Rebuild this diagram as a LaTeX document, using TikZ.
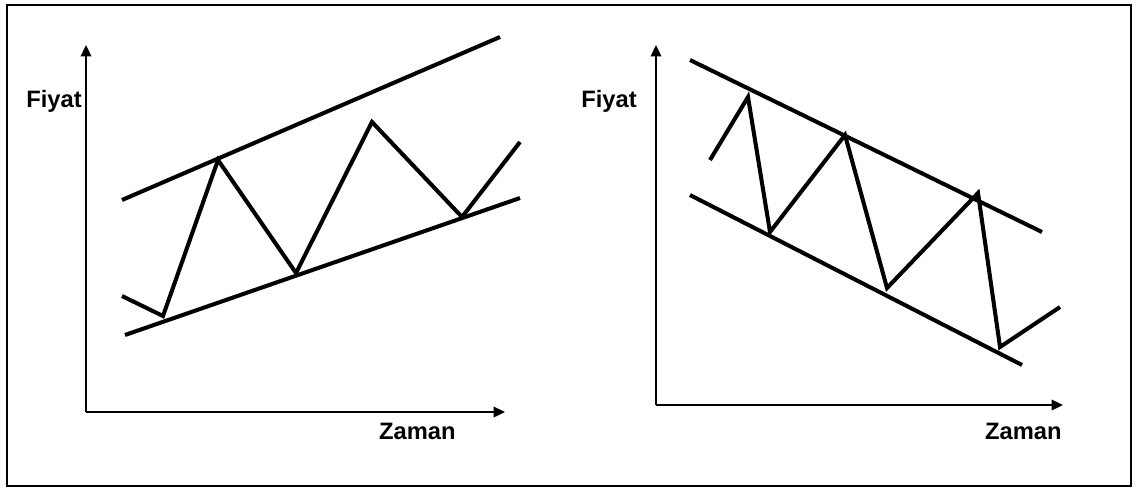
\documentclass[tikz,border=0pt]{standalone}
\usepackage{fontspec}
\setmainfont{Liberation Sans}
\usetikzlibrary{arrows.meta}

\begin{document}
\begin{tikzpicture}[x=0.02cm, y=-0.02cm,
    axis/.style={line width=1.1pt, -{Triangle[length=6.5pt, width=6pt]}},
    channel/.style={line width=2.3pt},
    price/.style={line width=2.3pt},
    lbl/.style={font=\bfseries\fontsize{13.5}{15}\selectfont, inner sep=0pt}]

    \useasboundingbox (0,0) rectangle (1137,488);

    % Outer frame
    \draw[line width=0.8pt] (7,5) rectangle (1131,486);

    % Left panel: rising channel
    \coordinate (origin1) at (86,412);
    \coordinate (ytip1) at (86,45);
    \coordinate (xtip1) at (505,412);
    \draw[axis] (origin1) -- (ytip1);
    \draw[axis] (origin1) -- (xtip1);
    \node[lbl, anchor=east] (fiyat1) at (82,101) {Fiyat};
    \node[lbl, anchor=north east] (zaman1) at (456,423) {Zaman};

    % Channel lines
    \draw[channel] (122,200) -- (500,37);
    \draw[channel] (125,335) -- (520,198);

    % Price path
    \draw[price] (122,296) -- (163,316) -- (218,160) -- (296,273)
      -- (372,122) -- (462,217) -- (520,142);

    % Right panel: falling channel
    \coordinate (origin2) at (656,405);
    \coordinate (ytip2) at (656,45);
    \coordinate (xtip2) at (1063,405);
    \draw[axis] (origin2) -- (ytip2);
    \draw[axis] (origin2) -- (xtip2);
    \node[lbl, anchor=east] (fiyat2) at (637,101) {Fiyat};
    \node[lbl, anchor=north east] (zaman2) at (1062,423) {Zaman};

    % Channel lines
    \draw[channel] (690,60) -- (1042,232);
    \draw[channel] (690,195) -- (1022,365);

    % Price path
    \draw[price] (710,160) -- (748,97) -- (770,232) -- (845,135)
      -- (887,288) -- (978,193) -- (1000,347) -- (1060,307);

\end{tikzpicture}
\end{document}
